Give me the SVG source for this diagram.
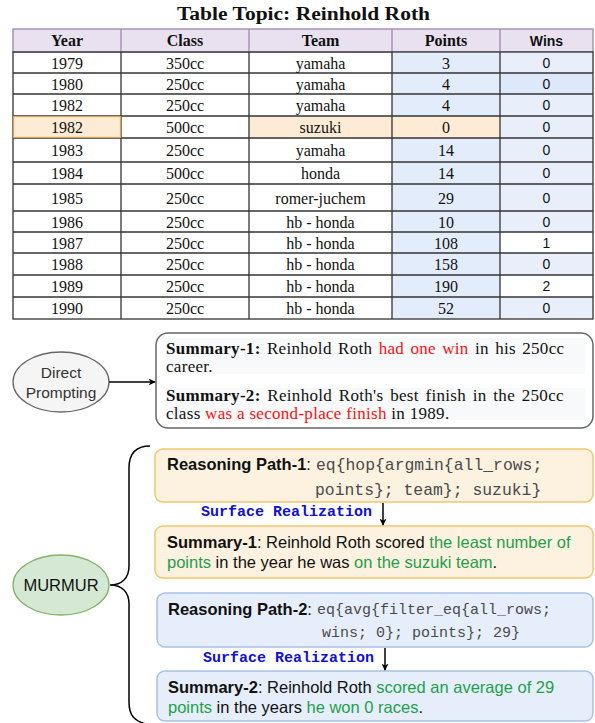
<svg xmlns="http://www.w3.org/2000/svg" width="595" height="723" viewBox="0 0 595 723">
<style>
.serif{font-family:"Liberation Serif","Times New Roman",serif;}
.sans{font-family:"Liberation Sans",Arial,sans-serif;}
.mono{font-family:"Liberation Mono","Courier New",monospace;}
.th{font-family:"Liberation Serif",serif;font-weight:bold;font-size:16px;text-anchor:middle;fill:#111;}
.td{font-family:"Liberation Serif",serif;font-size:16px;text-anchor:middle;fill:#111;}
.tw{font-family:"Liberation Sans",Arial,sans-serif;font-size:14px;text-anchor:middle;fill:#111;}
.grid{stroke:#333;stroke-width:1.3;fill:none;}
.blue{fill:#e3ecfa;}
.blue2{fill:#e8effb;}
.orange{fill:#fdebd5;}
.red{fill:#ff1010;}
.green{fill:#1ea04c;}
.b{font-weight:bold;}
.code{fill:#4a4a4a;}
.sr{font-family:"Liberation Mono","Courier New",monospace;font-weight:bold;font-size:15px;fill:#1010d0;}
.st{font-family:"Liberation Sans",Arial,sans-serif;font-size:16.5px;fill:#111;}
.ds{font-family:"Liberation Serif","Times New Roman",serif;font-size:17px;letter-spacing:0.3px;fill:#111;}
.con{stroke:#000;stroke-width:1.5;fill:none;}
</style>
<defs>
<marker id="arr" viewBox="0 0 10 10" refX="9" refY="5" markerWidth="7" markerHeight="7" markerUnits="userSpaceOnUse" orient="auto">
<path d="M0,0 L10,5 L0,10 L2.5,5 z" fill="#000"/>
</marker>
</defs>

<g id="table">
<text x="303.5" y="20" class="serif b" font-size="18" text-anchor="middle" textLength="253" lengthAdjust="spacingAndGlyphs" fill="#111">Table Topic: Reinhold Roth</text>
<rect x="13" y="29" width="580" height="23" fill="#e9e1f0" stroke="#9c86ad" stroke-width="1.3"/>
<g stroke="#9c86ad" stroke-width="1.3">
<line x1="121" y1="29" x2="121" y2="52"/><line x1="249" y1="29" x2="249" y2="52"/><line x1="392" y1="29" x2="392" y2="52"/><line x1="500" y1="29" x2="500" y2="52"/>
</g>
<text class="th" x="67" y="46">Year</text>
<text class="th" x="185" y="46">Class</text>
<text class="th" x="320.5" y="46">Team</text>
<text class="th" x="446" y="46">Points</text>
<text class="tw b" x="546.5" y="46" font-size="15">Wins</text>
<rect class="blue" x="392" y="52" width="108" height="267"/>
<rect class="blue2" x="500" y="52" width="93" height="267"/>
<rect fill="#dde8fa" x="500" y="73" width="93" height="21"/>
<rect fill="#fff" x="500" y="232" width="93" height="21"/>
<rect fill="#fff" x="500" y="275" width="93" height="22"/>
<rect class="orange" x="13" y="116" width="108" height="22"/>
<rect class="orange" x="249" y="116" width="143" height="22"/>
<rect class="orange" x="392" y="116" width="108" height="22"/>
<g class="grid">
<rect x="13" y="52" width="580" height="267"/>
<line x1="121" y1="52" x2="121" y2="319"/><line x1="249" y1="52" x2="249" y2="319"/><line x1="392" y1="52" x2="392" y2="319"/><line x1="500" y1="52" x2="500" y2="319"/>
<line x1="13" y1="73" x2="593" y2="73"/><line x1="13" y1="94" x2="593" y2="94"/><line x1="13" y1="116" x2="593" y2="116"/><line x1="13" y1="138" x2="593" y2="138"/>
<line x1="13" y1="162" x2="593" y2="162"/><line x1="13" y1="184" x2="593" y2="184"/><line x1="13" y1="211" x2="593" y2="211"/><line x1="13" y1="232" x2="593" y2="232"/>
<line x1="13" y1="253" x2="593" y2="253"/><line x1="13" y1="275" x2="593" y2="275"/><line x1="13" y1="297" x2="593" y2="297"/>
</g>
<rect x="13.5" y="116.5" width="107" height="21" fill="none" stroke="#d9a24e" stroke-width="1.2"/>
<g>
<text class="td" x="67" y="68.5">1979</text><text class="td" x="185" y="68.5">350cc</text><text class="td" x="320.5" y="68.5">yamaha</text><text class="td" x="446" y="68.5">3</text><text class="tw" x="546.5" y="67.5">0</text>
<text class="td" x="67" y="89.5">1980</text><text class="td" x="185" y="89.5">250cc</text><text class="td" x="320.5" y="89.5">yamaha</text><text class="td" x="446" y="89.5">4</text><text class="tw" x="546.5" y="88.5">0</text>
<text class="td" x="67" y="111">1982</text><text class="td" x="185" y="111">250cc</text><text class="td" x="320.5" y="111">yamaha</text><text class="td" x="446" y="111">4</text><text class="tw" x="546.5" y="110">0</text>
<text class="td" x="67" y="133">1982</text><text class="td" x="185" y="133">500cc</text><text class="td" x="320.5" y="133">suzuki</text><text class="td" x="446" y="133">0</text><text class="tw" x="546.5" y="132">0</text>
<text class="td" x="67" y="156">1983</text><text class="td" x="185" y="156">250cc</text><text class="td" x="320.5" y="156">yamaha</text><text class="td" x="446" y="156">14</text><text class="tw" x="546.5" y="155">0</text>
<text class="td" x="67" y="179">1984</text><text class="td" x="185" y="179">500cc</text><text class="td" x="320.5" y="179">honda</text><text class="td" x="446" y="179">14</text><text class="tw" x="546.5" y="178">0</text>
<text class="td" x="67" y="203.5">1985</text><text class="td" x="185" y="203.5">250cc</text><text class="td" x="320.5" y="203.5">romer-juchem</text><text class="td" x="446" y="203.5">29</text><text class="tw" x="546.5" y="202.5">0</text>
<text class="td" x="67" y="227.5">1986</text><text class="td" x="185" y="227.5">250cc</text><text class="td" x="320.5" y="227.5">hb - honda</text><text class="td" x="446" y="227.5">10</text><text class="tw" x="546.5" y="226.5">0</text>
<text class="td" x="67" y="248.5">1987</text><text class="td" x="185" y="248.5">250cc</text><text class="td" x="320.5" y="248.5">hb - honda</text><text class="td" x="446" y="248.5">108</text><text class="tw" x="546.5" y="247.5">1</text>
<text class="td" x="67" y="270">1988</text><text class="td" x="185" y="270">250cc</text><text class="td" x="320.5" y="270">hb - honda</text><text class="td" x="446" y="270">158</text><text class="tw" x="546.5" y="269">0</text>
<text class="td" x="67" y="292">1989</text><text class="td" x="185" y="292">250cc</text><text class="td" x="320.5" y="292">hb - honda</text><text class="td" x="446" y="292">190</text><text class="tw" x="546.5" y="291">2</text>
<text class="td" x="67" y="314">1990</text><text class="td" x="185" y="314">250cc</text><text class="td" x="320.5" y="314">hb - honda</text><text class="td" x="446" y="314">52</text><text class="tw" x="546.5" y="313">0</text>
</g>
</g>

<g id="direct-prompting">
<ellipse cx="61" cy="382" rx="48" ry="30" fill="#f5f5f5" stroke="#666" stroke-width="1.3"/>
<text class="sans" font-size="15.5" fill="#333" text-anchor="middle"><tspan x="61" y="378">Direct</tspan><tspan x="61" y="398">Prompting</tspan></text>
</g>

<g id="direct-summary">
<rect x="156" y="333" width="437" height="95" rx="12" fill="#fff" stroke="#666" stroke-width="1.5"/>
<rect x="166" y="338" width="419" height="36" fill="#f8f9fa"/>
<rect x="166" y="388" width="419" height="32" fill="#f8f9fa"/>
<text class="ds" x="166" y="353.5" word-spacing="1.8"><tspan class="b">Summary-1:</tspan> Reinhold Roth <tspan class="red">had one win</tspan> in his 250cc</text>
<text class="ds" x="166" y="371.5">career.</text>
<text class="ds" x="166" y="401" word-spacing="2.2"><tspan class="b">Summary-2:</tspan> Reinhold Roth's best finish in the 250cc</text>
<text class="ds" x="166" y="418.5">class <tspan class="red">was a second-place finish</tspan> in 1989.</text>
</g>

<g id="murmur">
<ellipse cx="61" cy="585" rx="48" ry="30" fill="#d5e8d4" stroke="#82b366" stroke-width="1.3"/>
<text class="sans" font-size="16.5" fill="#111" text-anchor="middle" x="61" y="591">MURMUR</text>
</g>

<g id="reasoning-path-1">
<rect x="155" y="449" width="438" height="53" rx="8" fill="#fdf1e0" stroke="#f2c66f" stroke-width="1.5"/>
<text class="st" x="167" y="470"><tspan class="b">Reasoning Path-1</tspan>: </text>
<text class="mono code" font-size="16.4" x="316" y="470">eq{hop{argmin{all_rows;</text>
<text class="mono code" font-size="16.4" x="315" y="495">points}; team}; suzuki}</text>
</g>

<g id="summary-1">
<rect x="155" y="526" width="438" height="52" rx="8" fill="#fdf1e0" stroke="#f2c66f" stroke-width="1.5"/>
<text class="st" x="167" y="548"><tspan class="b">Summary-1</tspan>: Reinhold Roth scored <tspan class="green">the least number of</tspan></text>
<text class="st" x="167" y="568"><tspan class="green">points</tspan> in the year he was <tspan class="green">on the suzuki team</tspan>.</text>
</g>

<g id="reasoning-path-2">
<rect x="157" y="593" width="436" height="54" rx="8" fill="#e6eefb" stroke="#a8c1e8" stroke-width="1.5"/>
<text class="st" x="168" y="615"><tspan class="b">Reasoning Path-2</tspan>: </text>
<text class="mono code" font-size="15" x="317" y="614">eq{avg{filter_eq{all_rows;</text>
<text class="mono code" font-size="15" x="322" y="637">wins; 0}; points}; 29}</text>
</g>

<g id="summary-2">
<rect x="157" y="671" width="436" height="50" rx="8" fill="#e6eefb" stroke="#a8c1e8" stroke-width="1.5"/>
<text class="st" x="168" y="693"><tspan class="b">Summary-2</tspan>: Reinhold Roth <tspan class="green">scored an average of 29</tspan></text>
<text class="st" x="168" y="713"><tspan class="green">points</tspan> in the years <tspan class="green">he won 0 races</tspan>.</text>
</g>

<g id="connectors">
<line class="con" x1="109" y1="382" x2="155" y2="382" marker-end="url(#arr)"/>
<path class="con" d="M150,446 C136,446 129,453 129,468 L129,566 C129,578 122,585 110,585 C122,585 129,592 129,604 L129,702 C129,715 134,721 146,724"/>
<line class="con" x1="383" y1="503" x2="383" y2="525" marker-end="url(#arr)"/>
<text class="sr" x="201" y="516">Surface Realization</text>
<line class="con" x1="385" y1="648" x2="385" y2="670" marker-end="url(#arr)"/>
<text class="sr" x="203" y="662">Surface Realization</text>
</g>
</svg>
